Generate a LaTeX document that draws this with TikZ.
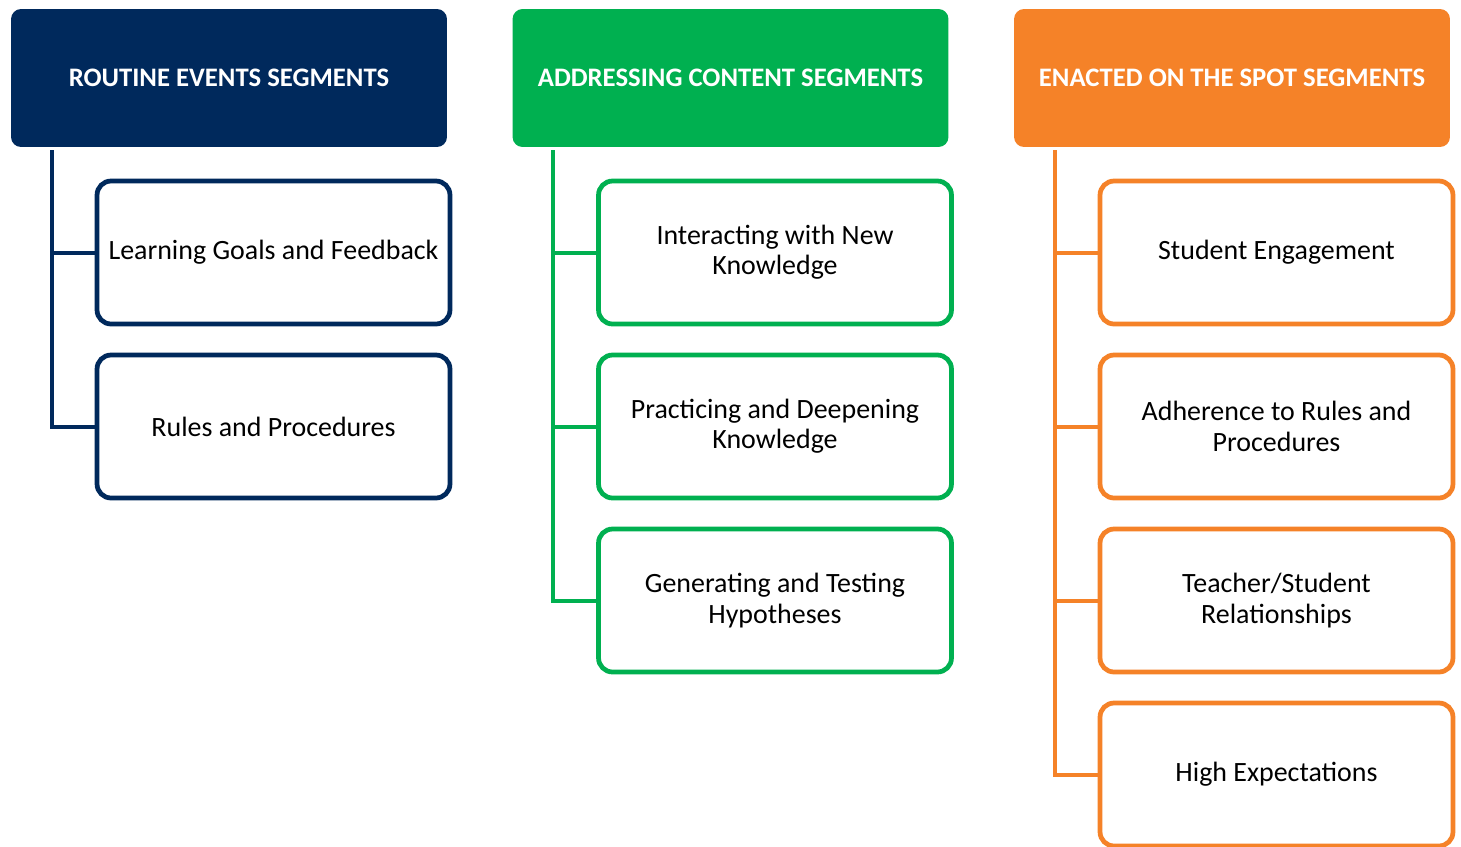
\documentclass[tikz,border=0pt]{standalone}
\usepackage{fontspec}
\setmainfont{Carlito}
\definecolor{routineblue}{RGB}{0,41,92}
\definecolor{contentgreen}{RGB}{0,176,80}
\definecolor{spotorange}{RGB}{245,130,40}

\begin{document}
\begin{tikzpicture}[x=0.02cm,y=-0.02cm,
  head/.style={rounded corners=0.2cm,minimum width=8.72cm,minimum height=2.76cm,
    text=white,font=\fontsize{15.2}{18}\selectfont\bfseries},
  item/.style={draw,fill=white,line width=0.095cm,rounded corners=0.28cm,
    minimum width=7.06cm,minimum height=2.86cm,align=center,
    font=\fontsize{15.9}{17.2}\selectfont},
  link/.style={line width=0.08cm}]
  \useasboundingbox (0,0) rectangle (1461,846);
  % segment headers
  \foreach \c/\col/\txt in {1/routineblue/{ROUTINE EVENTS SEGMENTS},
    2/contentgreen/{ADDRESSING CONTENT SEGMENTS},
    3/spotorange/{ENACTED ON THE SPOT SEGMENTS}}
  {
    \node[head,fill=\col] (h\c) at ({229+501.5*(\c-1)},78) {\txt};
  }
  % boxes under each header
  \foreach \c/\r/\col/\txt in {1/1/routineblue/{Learning Goals and Feedback},
    1/2/routineblue/{Rules and Procedures},
    2/1/contentgreen/{Interacting with New\\Knowledge},
    2/2/contentgreen/{Practicing and Deepening\\Knowledge},
    2/3/contentgreen/{Generating and Testing\\Hypotheses},
    3/1/spotorange/{Student Engagement},
    3/2/spotorange/{Adherence to Rules and\\Procedures},
    3/3/spotorange/{Teacher/Student\\Relationships},
    3/4/spotorange/{High Expectations}}
  {
    \node[item,draw=\col] (b\c\r) at ({273.5+501.5*(\c-1)},{252.5+174*(\r-1)}) {\txt};
    \draw[link,draw=\col] ([xshift=0.82cm,yshift=-0.06cm]h\c.south west) |- (b\c\r.west);
  }
\end{tikzpicture}
\end{document}
